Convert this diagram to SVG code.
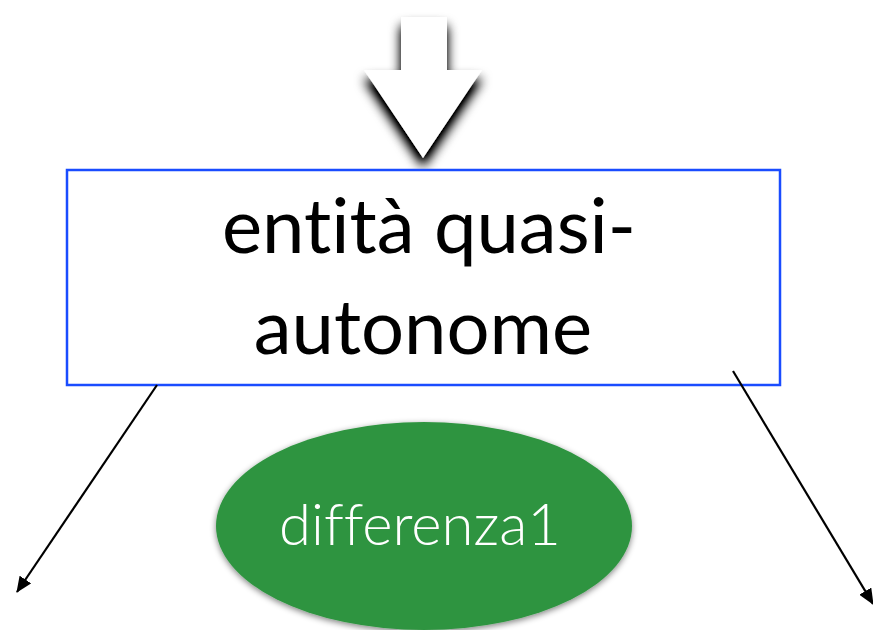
<svg xmlns="http://www.w3.org/2000/svg" width="873" height="630" viewBox="0 0 873 630">
<style>
.lbl{font-family:Lato,"Open Sans","Liberation Sans",sans-serif;text-anchor:middle;font-variant-ligatures:none;font-feature-settings:"liga" 0}
.conn{stroke:#000;stroke-width:2.2;fill:none}
</style>
<defs>
<marker id="ah" markerWidth="16" markerHeight="14" refX="15" refY="7" orient="auto" markerUnits="userSpaceOnUse" viewBox="0 0 16 14">
<path d="M0,0 L16,7 L0,14 z" fill="#000"/>
</marker>
<filter id="arrShadow" x="-40%" y="-40%" width="180%" height="180%">
<feGaussianBlur in="SourceAlpha" stdDeviation="6"/>
<feOffset dx="0" dy="9" result="b"/>
<feComponentTransfer><feFuncA type="linear" slope="1.3"/></feComponentTransfer>
<feMerge><feMergeNode/><feMergeNode in="SourceGraphic"/></feMerge>
</filter>
<filter id="ellShadow" x="-10%" y="-10%" width="120%" height="130%">
<feGaussianBlur in="SourceAlpha" stdDeviation="3"/>
<feOffset dx="0" dy="2"/>
<feComponentTransfer><feFuncA type="linear" slope="0.5"/></feComponentTransfer>
<feMerge><feMergeNode/><feMergeNode in="SourceGraphic"/></feMerge>
</filter>
</defs>
<rect width="873" height="630" fill="#fff"/>
<g id="big-arrow" filter="url(#arrShadow)">
<path d="M401,17 L447,17 L447,70 L482,70 L423,158 L364,70 L401,70 z" fill="#fff"/>
</g>
<g id="node-entita">
<rect x="67" y="170" width="713" height="215" fill="#fff" stroke="#1a4cff" stroke-width="2.5"/>
<text class="lbl" x="429" y="253" font-size="76" fill="#000">entità quasi-</text>
<text class="lbl" x="423" y="354" font-size="76" fill="#000">autonome</text>
</g>
<g id="node-differenza1" filter="url(#ellShadow)">
<ellipse cx="424" cy="526" rx="208" ry="104" fill="#2f9440"/>
<text class="lbl" x="420" y="545" font-size="58" font-weight="300" fill="#fff">differenza1</text>
</g>
<g id="connectors">
<line class="conn" x1="157" y1="385" x2="17" y2="592" marker-end="url(#ah)"/>
<line class="conn" x1="733" y1="371" x2="873" y2="604" marker-end="url(#ah)"/>
</g>
</svg>
